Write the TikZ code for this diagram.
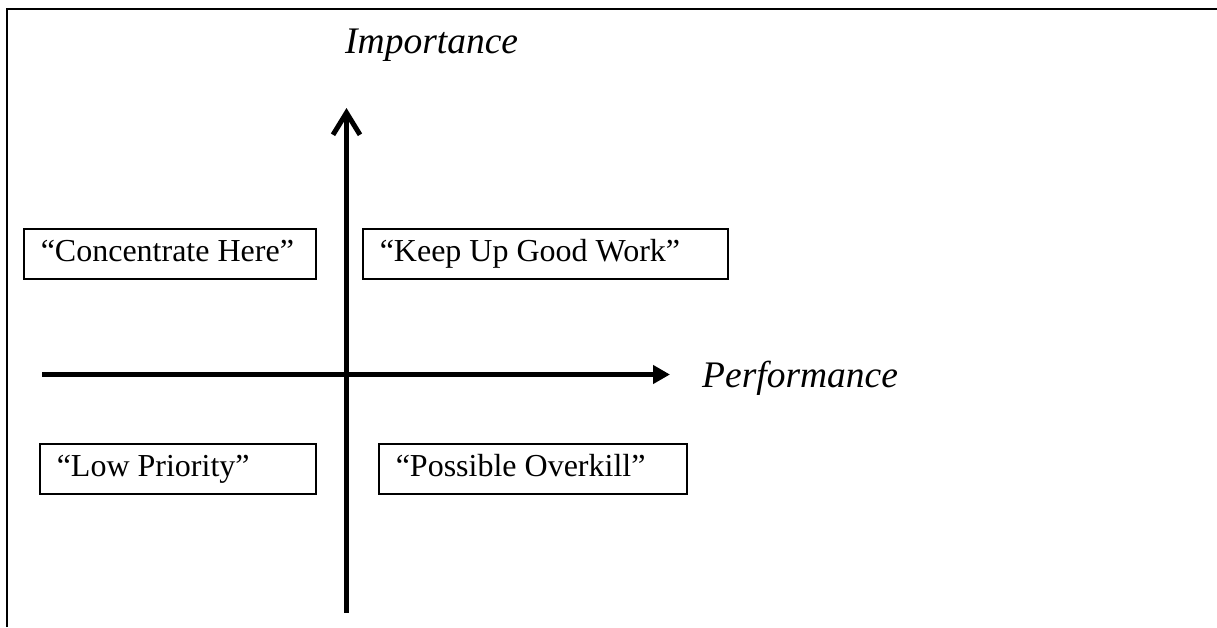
\documentclass[tikz,border=0pt]{standalone}
\usepackage{fontspec}
\setmainfont{Liberation Serif}
\usetikzlibrary{arrows.meta}

\newcommand{\boxtext}[2]{\makebox[#1][l]{#2}}

\begin{document}
\begin{tikzpicture}[x=1pt, y=-1pt,
  quadbox/.style={draw, line width=1.5pt, anchor=north west, inner xsep=17pt,
    inner ysep=0pt, minimum height=50pt,
    font=\fontsize{32}{38}\selectfont, text height=22pt, text depth=6pt},
  axislabel/.style={anchor=base west, inner sep=0pt,
    font=\fontsize{37.5}{45}\selectfont\itshape},
  axis/.style={line width=5pt}]

  \useasboundingbox (0,0) rectangle (1217,627);

  % outer frame (only top and left edges fall inside the page)
  \draw[line width=2pt] (7,627) -- (7,9) -- (1217,9);

  % axis end points
  \coordinate (ybot) at (346.5,612.5);
  \coordinate (ytop) at (346.5,108);
  \coordinate (xleft) at (42,374.5);
  \coordinate (xright) at (670,374.5);

  % axes
  \draw[axis, -{Straight Barb[length=22pt, width=27pt, line width=5pt]}] (ybot) -- (ytop);
  \draw[line width=4.5pt, -{Triangle[length=17pt, width=18pt]}] (xleft) -- (xright);

  % axis labels
  \node[axislabel] (imp) at (345,53) {Importance};
  \node[axislabel] (perf) at (702,387) {Performance};

  % quadrant boxes
  \node[quadbox] (conc) at (23,228) {\boxtext{258pt}{“Concentrate Here”}};
  \node[quadbox] (keep) at (362,228) {\boxtext{331pt}{“Keep Up Good Work”}};
  \node[quadbox] (low) at (39,443) {\boxtext{242pt}{“Low Priority”}};
  \node[quadbox] (over) at (378,443) {\boxtext{274pt}{“Possible Overkill”}};
\end{tikzpicture}
\end{document}
